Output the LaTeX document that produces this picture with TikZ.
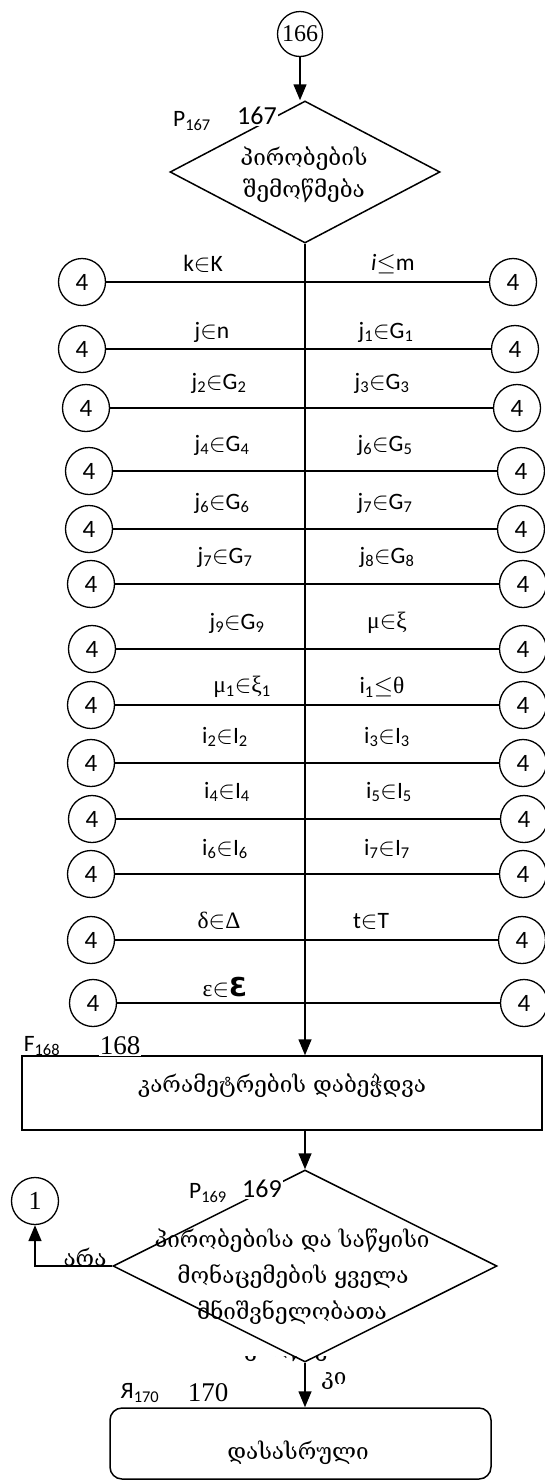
\documentclass[tikz,border=0pt]{standalone}
\usepackage{fontspec}
\setmainfont{Carlito}
\newfontfamily\geo{DejaVu Serif}
\newfontfamily\tms{Liberation Serif}
\newfontfamily\djv{DejaVu Sans}
\usetikzlibrary{arrows.meta,shapes.geometric}
\newcommand{\ssb}[1]{\textsubscript{#1}}
\newcommand{\gk}[1]{{\tms #1}}
\begin{document}
\begin{tikzpicture}[x=1pt,y=-1pt,line width=1.5pt,
  conn/.style={circle,draw,line width=1.3pt,minimum size=47pt,inner sep=0pt,font=\fontsize{25}{28}\selectfont},
  lbl/.style={font=\fontsize{23.5}{27}\selectfont,inner sep=1pt},
  num/.style={font=\fontsize{26}{30}\selectfont,inner sep=1pt,fill=white},
  snum/.style={font=\tms\fontsize{27}{30}\selectfont,inner sep=1pt,fill=white},
  gtext/.style={font=\geo\fontsize{22.5}{26}\selectfont,inner sep=0pt},
  arr/.style={-{Triangle[length=16pt,width=13pt]}},
  hline/.style={line width=1.5pt}]
\useasboundingbox (0,0) rectangle (544,1481);

% top connector
\node[circle,draw,line width=1.3pt,minimum size=45pt,inner sep=0pt,font=\tms\fontsize{24}{27}\selectfont] (c166) at (300,34) {166};

% decision 167
\node[diamond,draw,minimum width=270pt,minimum height=142pt,inner sep=0pt] (d167) at (305,172) {};
\draw[arr] (c166.south) -- (c166.south |- d167.north);
\node[num] (n167) at (257,116) {167};
\node[lbl] (p167) at (192,121) {P\ssb{167}};
\node[gtext] (t167a) at (304,159) {პირობების};
\node[gtext] (t167b) at (304,191) {შემოწმება};

% box 168
\node[draw,minimum width=520pt,minimum height=74pt,inner sep=0pt] (b168) at (282,1093) {};
\draw[arr] (d167.south) -- (d167.south |- b168.north);

% rows of connectors
\foreach \i/\yy/\lx/\rx/\la/\lax/\ra/\rax/\ly in {
 1/282/82/513/{k$\in$K}/203/{{\itshape i}$\leq$m}/393/264,
 2/349/82/515/{j$\in$n}/212/{j\ssb{1}$\in$G\ssb{1}}/386/332,
 3/408/86/517/{j\ssb{2}$\in$G\ssb{2}}/219/{j\ssb{3}$\in$G\ssb{3}}/382/383,
 4/471/89/521/{j\ssb{4}$\in$G\ssb{4}}/222/{j\ssb{6}$\in$G\ssb{5}}/385/445,
 5/529/89/521/{j\ssb{6}$\in$G\ssb{6}}/222/{j\ssb{7}$\in$G\ssb{7}}/385/503,
 6/584/91/523/{j\ssb{7}$\in$G\ssb{7}}/225/{j\ssb{8}$\in$G\ssb{8}}/387/557,
 7/649/92/523/{j\ssb{9}$\in$G\ssb{9}}/237/{\gk{μ}$\in$\gk{ξ}}/387/623,
 8/705/91/523/{\gk{μ}\ssb{1}$\in$\gk{ξ}\ssb{1}}/242/{i\ssb{1}$\leq$\gk{θ}}/382/687,
 9/763/91/523/{i\ssb{2}$\in$I\ssb{2}}/225/{i\ssb{3}$\in$I\ssb{3}}/387/737,
 10/819/92/524/{i\ssb{4}$\in$I\ssb{4}}/227/{i\ssb{5}$\in$I\ssb{5}}/389/792,
 11/874/91/523/{i\ssb{6}$\in$I\ssb{6}}/225/{i\ssb{7}$\in$I\ssb{7}}/387/849,
 12/940/91/522/{\gk{δ}$\in$\gk{Δ}}/219/{t$\in$T}/371/921,
 13/1003/93/524/{\gk{ε}$\in${\djv\bfseries\fontsize{26}{28}\selectfont Ɛ}}/225/{}/371/987}
{
  \node[conn] (L\i) at (\lx,\yy) {4};
  \node[conn] (R\i) at (\rx,\yy) {4};
  \draw[hline] (L\i.east) -- (R\i.west);
  \node[lbl] (la\i) at (\lax,\ly) {\la};
  \node[lbl] (ra\i) at (\rax,\ly) {\ra};
}

\node[lbl] (f168) at (42,1046) {F\ssb{168}};
\node[snum] (n168) at (120,1046) {168};
\node[gtext] (t168) at (282,1086) {კარამეტრების დაბეჭდვა};

% decision 169
\node[diamond,draw,minimum width=384pt,minimum height=192pt,inner sep=0pt] (d169) at (305,1266) {};
\draw[arr] (d167.south |- b168.south) -- (d169.north);
\node[num] (n169) at (262,1189) {169};
\node[lbl] (p169) at (208,1193) {P\ssb{169}};
\node[gtext] (t169a) at (292,1241) {პირობებისა და საწყისი};
\node[gtext] (t169b) at (293,1277) {მონაცემების ყველა};
\node[gtext] (t169c) at (292,1313) {მნიშვნელობათა};
\begin{scope}
  \clip (200,1356) rectangle (400,1364);
  \node[gtext] (t169d) at (292,1350) {შემოწმება};
\end{scope}

% connector 1
\node[circle,draw,line width=1.3pt,minimum size=47pt,inner sep=0pt,font=\tms\fontsize{26}{28}\selectfont] (c1) at (35,1201) {1};
\draw[arr] (d169.west) -- (c1.south |- d169.west) -- (c1.south);
\node[gtext] (no) at (85,1257) {არა};

% end box 170
\node[draw,rounded corners=12pt,minimum width=381pt,minimum height=71pt,inner sep=0pt] (b170) at (300.5,1443.5) {};
\draw[arr] (d169.south) -- (d169.south |- b170.north);
\node[gtext] (yes) at (334,1381) {კი};
\node[lbl] (ya170) at (140,1393) {Я\ssb{170}};
\node[snum,fill=none] (n170) at (208,1393) {170};
\node[gtext] (t170) at (298,1453) {დასასრული};
\end{tikzpicture}
\end{document}
